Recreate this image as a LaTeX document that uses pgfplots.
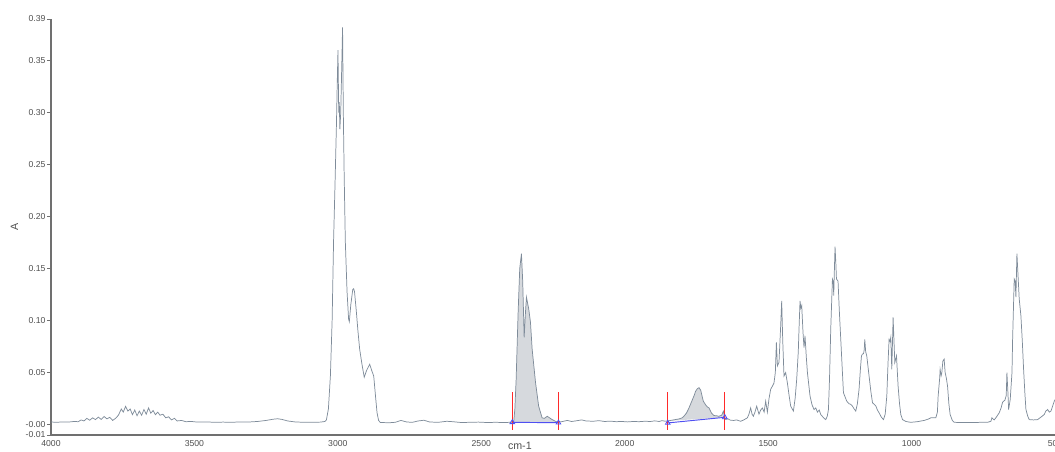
\documentclass[border=0pt]{standalone}
\usepackage{fontspec}
\setmainfont{Liberation Sans}
\usepackage{pgfplots}
\usepackage{pgfplotstable}
\pgfplotsset{compat=1.18}
\usepgfplotslibrary{fillbetween}
\definecolor{spec}{HTML}{7F8C9A}
\definecolor{fillg}{HTML}{D6D9DD}
\definecolor{bblue}{HTML}{4F4FF2}
\definecolor{rred}{HTML}{FF2A2A}
\definecolor{axgray}{HTML}{707070}
\definecolor{lblgray}{HTML}{505050}
\pgfplotstableread{
w A
4000 0.0025
3980 0.0022
3960 0.0026
3940 0.0024
3920 0.0030
3905 0.0028
3895 0.0045
3885 0.0035
3875 0.0060
3865 0.0042
3855 0.0065
3845 0.0048
3835 0.0072
3825 0.0050
3815 0.0078
3805 0.0055
3795 0.0070
3785 0.0040
3775 0.0060
3765 0.0090
3755 0.0150
3748 0.0120
3740 0.0175
3732 0.0130
3724 0.0150
3716 0.0095
3708 0.0140
3700 0.0085
3692 0.0130
3684 0.0090
3676 0.0145
3668 0.0100
3660 0.0160
3652 0.0110
3644 0.0135
3636 0.0095
3628 0.0120
3620 0.0090
3610 0.0100
3600 0.0065
3590 0.0075
3580 0.0045
3570 0.0060
3560 0.0035
3545 0.0040
3530 0.0028
3510 0.0030
3490 0.0024
3460 0.0026
3430 0.0022
3400 0.0024
3370 0.0022
3340 0.0026
3310 0.0025
3280 0.0030
3250 0.0040
3225 0.0052
3210 0.0056
3195 0.0050
3175 0.0035
3150 0.0026
3120 0.0022
3090 0.0022
3060 0.0024
3045 0.0030
3040 0.0045
3033 0.0150
3026 0.0470
3020 0.1000
3015 0.1760
3010 0.2300
3005 0.2880
3002 0.3300
2999.6 0.3600
2997 0.3000
2995 0.3100
2993 0.2840
2990 0.3000
2986 0.3500
2983.6 0.3820
2981 0.3000
2978 0.2400
2974 0.1760
2968 0.1280
2962.6 0.1015
2960 0.0990
2955 0.1150
2948 0.1300
2945 0.1306
2942 0.1280
2936 0.1100
2930 0.0900
2924 0.0725
2916 0.0580
2908 0.0455
2900 0.0520
2889 0.0580
2882 0.0520
2875 0.0467
2868 0.0250
2863.5 0.0116
2858 0.0040
2852 0.0020
2820 0.0018
2800 0.0022
2780 0.0040
2760 0.0025
2740 0.0022
2720 0.0035
2700 0.0042
2680 0.0025
2650 0.0022
2620 0.0032
2600 0.0028
2570 0.0020
2540 0.0022
2510 0.0024
2480 0.0020
2450 0.0022
2420 0.0020
2400 0.0022
2390 0.0022
2387 0.0025
2383 0.0150
2378.5 0.0435
2371.6 0.1080
2366 0.1500
2360 0.1644
2355.5 0.1370
2350.6 0.0838
2346 0.1080
2342.6 0.1225
2334.5 0.1110
2328.6 0.0985
2322.7 0.0725
2311 0.0406
2300 0.0177
2288 0.0065
2280 0.0060
2270 0.0080
2253 0.0048
2240 0.0030
2233 0.0022
2220 0.0028
2200 0.0040
2185 0.0030
2170 0.0036
2150 0.0045
2135 0.0035
2110 0.0032
2090 0.0038
2070 0.0030
2050 0.0033
2030 0.0028
2010 0.0030
1990 0.0026
1970 0.0030
1950 0.0028
1930 0.0032
1910 0.0030
1895 0.0036
1880 0.0030
1870 0.0038
1860 0.0033
1850 0.0035
1840 0.0040
1830 0.0045
1820 0.0050
1810 0.0055
1800 0.0065
1794 0.0080
1785 0.0110
1776 0.0160
1770 0.0200
1764 0.0240
1758 0.0280
1753 0.0320
1747 0.0345
1741 0.0355
1735 0.0330
1730 0.0270
1726 0.0225
1718 0.0190
1712 0.0170
1706 0.0160
1698 0.0113
1689 0.0087
1680 0.0085
1672 0.0080
1662 0.0090
1656 0.0129
1652 0.0080
1648 0.0050
1640 0.0055
1631 0.0042
1620 0.0040
1610 0.0045
1596 0.0032
1585 0.0045
1572.5 0.0065
1567 0.0100
1561 0.0160
1556 0.0100
1551.6 0.0080
1546 0.0120
1540 0.0177
1532 0.0100
1526 0.0140
1520 0.0160
1514 0.0120
1508.6 0.0225
1502.7 0.0120
1497 0.0250
1491.2 0.0340
1485 0.0370
1479.7 0.0400
1475 0.0500
1471.3 0.0790
1467.8 0.0564
1462.2 0.0600
1456.3 0.0950
1452.8 0.1190
1449.3 0.0820
1444.8 0.0467
1438.9 0.0500
1432.9 0.0400
1427 0.0280
1421.4 0.0177
1412 0.0130
1406 0.0250
1400.5 0.0435
1395 0.0700
1392.4 0.0920
1388.9 0.1190
1386 0.1120
1383 0.1145
1378.5 0.0887
1375 0.0740
1371.5 0.0854
1367 0.0650
1363.1 0.0500
1354 0.0274
1347 0.0190
1340.1 0.0145
1334 0.0160
1328.2 0.0120
1322 0.0140
1316.7 0.0097
1305 0.0060
1299.3 0.0048
1294 0.0080
1289.8 0.0145
1286 0.0450
1281.8 0.0920
1275.9 0.1400
1273 0.1380
1271.4 0.1240
1269 0.1500
1266.8 0.1710
1264 0.1550
1261.9 0.1400
1256.4 0.1380
1252 0.1100
1246.9 0.0820
1242 0.0550
1237.5 0.0306
1226 0.0225
1218 0.0200
1212 0.0195
1206.1 0.0177
1200 0.0150
1194.6 0.0130
1189 0.0200
1183.1 0.0340
1178 0.0550
1174.7 0.0660
1171 0.0680
1167.7 0.0680
1165 0.0720
1163.2 0.0820
1160 0.0700
1156.2 0.0660
1148.2 0.0467
1142 0.0320
1136.3 0.0210
1124.8 0.0180
1119 0.0140
1113.3 0.0113
1105 0.0070
1098 0.0048
1092 0.0100
1086.4 0.0274
1082 0.0600
1078.4 0.0820
1075 0.0800
1072.5 0.0838
1069 0.0530
1064.4 0.1030
1058.5 0.0597
1052.6 0.0660
1047 0.0370
1042 0.0200
1037.6 0.0097
1031.6 0.0048
1020 0.0030
1002.7 0.0022
980 0.0028
956.3 0.0040
940 0.0055
932.9 0.0065
915.5 0.0065
910 0.0120
907.4 0.0274
902 0.0450
900.5 0.0530
897 0.0470
894.5 0.0500
891 0.0610
886.5 0.0630
883 0.0500
879 0.0450
874.6 0.0370
870 0.0200
865.6 0.0097
858 0.0040
851.6 0.0022
830 0.0020
804.8 0.0020
780 0.0020
758.4 0.0022
735 0.0022
723.5 0.0032
720 0.0065
712 0.0045
705 0.0070
694.6 0.0113
688 0.0160
682.7 0.0216
674.7 0.0235
670 0.0280
667.7 0.0500
664 0.0300
661.8 0.0145
656.2 0.0240
650 0.0500
647.8 0.0820
642.2 0.1400
639 0.1380
636.3 0.1225
632.8 0.1644
628.3 0.1400
624.8 0.1210
618.9 0.1047
614 0.0800
609.5 0.0530
605 0.0300
601.4 0.0145
595 0.0080
589.9 0.0048
575 0.0045
560.6 0.0048
550 0.0070
543 0.0085
537.6 0.0097
532 0.0130
525.7 0.0145
520 0.0120
514.2 0.0130
508 0.0180
502.7 0.0225
500 0.0240
}\spectab
\begin{document}
\begin{tikzpicture}
\begin{axis}[
  at={(38.25pt,12.75pt)}, anchor=south west,
  scale only axis, width=753pt, height=312pt,
  x dir=reverse, xmin=500, xmax=4000, ymin=-0.01, ymax=0.39,
  axis lines=left, axis line style={axgray, line width=0.8pt, -},
  xtick={4000,3500,3000,2500,2000,1500,1000,500},
  xticklabels={4000,3500,3000,2500,2000,1500,1000,500},
  ytick={-0.01,0,0.05,0.10,0.15,0.20,0.25,0.30,0.35,0.39},
  yticklabels={-0.01,-0.00,0.05,0.10,0.15,0.20,0.25,0.30,0.35,0.39},
  xtick style={draw=none},
  ytick style={axgray, line width=0.5pt},
  tick align=outside, major tick length=3pt,
  tick label style={font=\fontsize{6.5}{7}\selectfont, text=lblgray},
  xticklabel style={inner sep=1pt},
  yticklabel style={inner sep=1pt},
  /pgf/number format/assume math mode=true,
  xlabel={cm-1}, ylabel={A},
  label style={font=\fontsize{8}{9}\selectfont, text=lblgray},
  xlabel style={at={(axis description cs:0.467,0)}, anchor=north, inner sep=0pt, yshift=-5.5pt},
  ylabel style={at={(axis description cs:0,0.5)}, anchor=center, yshift=27.5pt},
  clip=true,
]
\addplot[draw=none, name path=spec, forget plot] table[x=w, y=A] {\spectab};
\addplot[draw=none, name path=base1, forget plot] coordinates {(2392,0.0022) (2231,0.0018)};
\addplot[draw=none, name path=base2, forget plot] coordinates {(1850,0.0016) (1651,0.0070)};
\addplot[fillg, forget plot] fill between[of=spec and base1, soft clip={domain=2231:2392}];
\addplot[fillg, forget plot] fill between[of=spec and base2, soft clip={domain=1651:1850}];
\addplot[spec, line width=0.55pt] table[x=w, y=A] {\spectab};
\addplot[bblue, line width=0.7pt, mark=triangle, mark size=2pt, mark options={solid, line width=0.6pt}] coordinates {(2392,0.0022) (2231,0.0018)};
\addplot[bblue, line width=0.7pt, mark=triangle, mark size=2pt, mark options={solid, line width=0.6pt}] coordinates {(1850,0.0016) (1651,0.0070)};
\addplot[rred, line width=0.6pt] coordinates {(2392,-0.005) (2392,0.031)};
\addplot[rred, line width=0.6pt] coordinates {(2231,-0.005) (2231,0.031)};
\addplot[rred, line width=0.6pt] coordinates {(1850,-0.005) (1850,0.031)};
\addplot[rred, line width=0.6pt] coordinates {(1651,-0.005) (1651,0.031)};
\end{axis}
\pgfresetboundingbox
\useasboundingbox (0,0) rectangle (791.25pt,339pt);
\end{tikzpicture}
\end{document}
